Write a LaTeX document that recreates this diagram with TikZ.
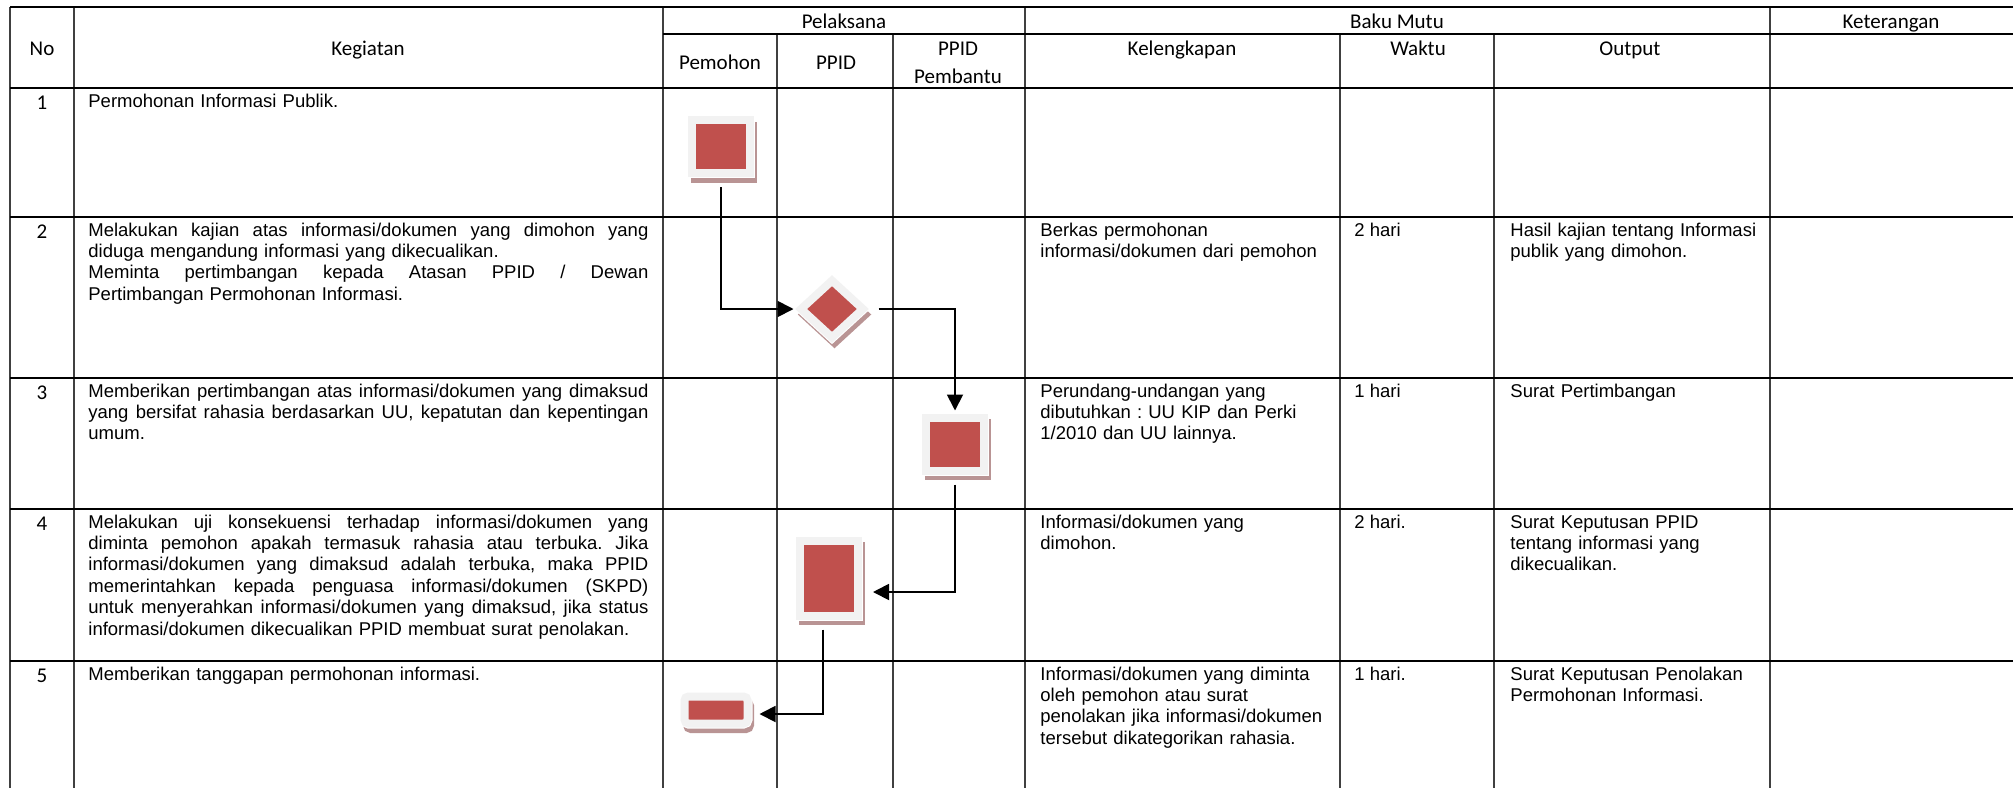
\documentclass[tikz,border=0pt]{standalone}
\usepackage{fontspec}
\setmainfont{Liberation Sans}
\newfontfamily\hdfont{Carlito}
\usepackage{tikz}
\usetikzlibrary{
  arrows.meta,
  positioning,
  calc,
  shapes.geometric
}
\definecolor{boxred}{HTML}{C0504D}
\definecolor{boxrim}{HTML}{F2F2F2}
\definecolor{boxshade}{RGB}{185,148,148}
\newcommand{\jl}[1]{{\spaceskip=0pt\xspaceskip=0pt\makebox[\linewidth][s]{#1}}}

\begin{document}
\frenchspacing
\begin{tikzpicture}[x=0.5pt, y=-0.5pt,
  hline/.style={line width=1.25pt},
  vline/.style={line width=0.6pt, black!75},
  hd/.style={font=\hdfont\fontsize{10.5}{14}\selectfont, anchor=base, inner sep=0pt},
  txt/.style={font=\fontsize{9.25}{10.7}\selectfont\frenchspacing, anchor=base west, inner sep=0pt, align=left},
  keg/.style={txt, text width=280pt},
  kel/.style={txt, text width=150pt},
  outp/.style={txt, text width=130pt},
  rim/.style={fill=boxred, draw=boxrim, line width=4pt, inner sep=0pt,
    preaction={fill=boxshade, draw=boxshade, transform canvas={shift={(1.25pt,-2.75pt)}}},
    preaction={draw=white, line width=5pt}},
  flow/.style={line width=0.9pt, -{Triangle[length=8pt,width=8pt]}, shorten <=5pt, shorten >=4pt}]
\useasboundingbox (0,0) rectangle (2013,788);

\foreach \x in {10,74,663,1025,1770} \draw[vline] (\x,7) -- (\x,788);
\foreach \x in {777,893,1340,1494} \draw[vline] (\x,34) -- (\x,788);
\draw[line width=0.7pt] (663,34) -- (2013,34);
\foreach \y in {7,88,217,378,509,661} \draw[hline] (10,\y) -- (2013,\y);

\node[hd] (no) at (42,55) {No};
\node[hd] (keg) at (368,55) {Kegiatan};
\node[hd] (pel) at (844,28) {Pelaksana};
\node[hd] (pem) at (720,69) {Pemohon};
\node[hd] (ppid) at (836,69) {PPID};
\node[hd, text width=60pt, align=center] (pemb) at (958,55) {PPID\\Pembantu};
\node[hd] (baku) at (1397,28) {Baku Mutu};
\node[hd] (kel) at (1182,55) {Kelengkapan};
\node[hd] (wkt) at (1418,55) {Waktu};
\node[hd] (out) at (1630,55) {Output};
\node[hd] (ket) at (1891,28) {Keterangan};

\node[hd] (n1) at (42,109) {1};
\node[hd] (n2) at (42,238) {2};
\node[hd] (n3) at (42,399) {3};
\node[hd] (n4) at (42,530) {4};
\node[hd] (n5) at (42,682) {5};

\node[keg] (k1) at (88,107) {Permohonan Informasi Publik.};
\node[keg] (k2) at (88,236) {\jl{Melakukan kajian atas informasi/dokumen yang dimohon yang}\\diduga mengandung informasi yang dikecualikan.\\\jl{Meminta pertimbangan kepada Atasan PPID / Dewan}\\Pertimbangan Permohonan Informasi.};
\node[keg] (k3) at (88,397) {\jl{Memberikan pertimbangan atas informasi/dokumen yang dimaksud}\\\jl{yang bersifat rahasia berdasarkan UU, kepatutan dan kepentingan}\\umum.};
\node[keg] (k4) at (88,528) {\jl{Melakukan uji konsekuensi terhadap informasi/dokumen yang}\\\jl{diminta pemohon apakah termasuk rahasia atau terbuka. Jika}\\\jl{informasi/dokumen yang dimaksud adalah terbuka, maka PPID}\\\jl{memerintahkan kepada penguasa informasi/dokumen (SKPD)}\\\jl{untuk menyerahkan informasi/dokumen yang dimaksud, jika status}\\informasi/dokumen dikecualikan PPID membuat surat penolakan.};
\node[keg] (k5) at (88,680) {Memberikan tanggapan permohonan informasi.};

\node[kel] (l2) at (1040,236) {Berkas permohonan\\informasi/dokumen dari pemohon};
\node[kel] (l3) at (1040,397) {Perundang-undangan yang\\dibutuhkan : UU KIP dan Perki\\1/2010 dan UU lainnya.};
\node[kel] (l4) at (1040,528) {Informasi/dokumen yang\\dimohon.};
\node[kel] (l5) at (1040,680) {Informasi/dokumen yang diminta\\oleh pemohon atau surat\\penolakan jika informasi/dokumen\\tersebut dikategorikan rahasia.};

\node[txt] (w2) at (1354,236) {2 hari};
\node[txt] (w3) at (1354,397) {1 hari};
\node[txt] (w4) at (1354,528) {2 hari.};
\node[txt] (w5) at (1354,680) {1 hari.};

\node[outp] (o2) at (1510,236) {Hasil kajian tentang Informasi\\publik yang dimohon.};
\node[outp] (o3) at (1510,397) {Surat Pertimbangan};
\node[outp] (o4) at (1510,528) {Surat Keputusan PPID\\tentang informasi yang\\dikecualikan.};
\node[outp] (o5) at (1510,680) {Surat Keputusan Penolakan\\Permohonan Informasi.};

\node[rim, minimum width=29pt, minimum height=26.5pt] (s1) at (721,146.5) {};
\node[rim, diamond, minimum width=32.5pt, minimum height=30pt] (d2) at (832,309) {};
\node[rim, minimum width=29pt, minimum height=26.5pt] (s3) at (955,444) {};
\node[rim, minimum width=29pt, minimum height=37.5pt] (s4) at (829,578) {};
\node[rim, rounded corners=2pt, minimum width=31.5pt, minimum height=13.5pt] (s5) at (716,710) {};

\coordinate (s4in) at ([yshift=-7pt]s4.east);
\draw[flow, shorten >=1pt] (s1.south) |- (d2.west);
\draw[flow, shorten >=1.5pt] (d2.east) -| (s3.north);
\draw[flow, shorten >=5.5pt] (s3.south) |- (s4in);
\draw[flow] ([xshift=-3pt]s4.south) |- ([yshift=-2pt]s5.east);
\end{tikzpicture}
\end{document}
